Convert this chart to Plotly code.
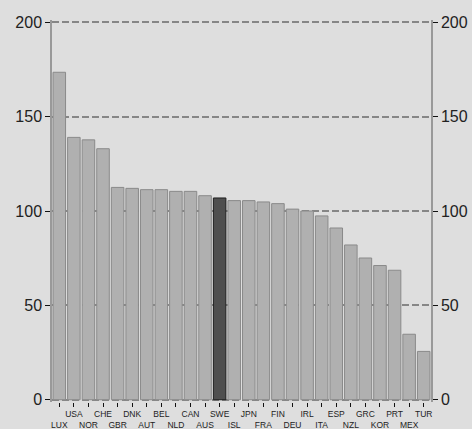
import plotly.graph_objects as go

countries = ["LUX", "USA", "NOR", "CHE", "GBR", "DNK", "AUT", "BEL", "NLD", "CAN",
             "AUS", "SWE", "ISL", "JPN", "FRA", "FIN", "DEU", "IRL", "ITA", "ESP",
             "NZL", "GRC", "KOR", "PRT", "MEX", "TUR"]
values = [173.5, 139, 137.7, 133, 112.5, 112, 111.3, 111.3, 110.4, 110.4,
          108.1, 106.9, 105.5, 105.5, 104.8, 103.9, 101, 100, 97.4, 91,
          82, 75.1, 71.1, 68.6, 34.7, 25.6]
highlight = "SWE"
y_ticks = [0, 50, 100, 150, 200]

BG = "#dedede"
fills = ["#4f4f4f" if c == highlight else "#b0b0b0" for c in countries]
lines = ["#1e1e1e" if c == highlight else "#8a8a8a" for c in countries]
ticktext = [c if i % 2 == 1 else "<br>" + c for i, c in enumerate(countries)]

fig = go.Figure()
fig.add_trace(go.Bar(x=countries, y=values,
                     marker=dict(color=fills, line=dict(color=lines, width=1)),
                     hoverinfo="skip"))
fig.add_trace(go.Scatter(x=[countries[0]], y=[0], yaxis="y2", mode="markers",
                         marker=dict(opacity=0), hoverinfo="skip", showlegend=False))

axis_common = dict(range=[-1.2, 201.2], tickvals=y_ticks, ticks="outside", ticklen=5,
                   tickcolor="#111", tickwidth=1, showline=True, linecolor="#999",
                   linewidth=1.5, zeroline=False, automargin=False,
                   tickfont=dict(family="Liberation Sans, Arial", size=16, color="#222"))

fig.update_layout(
    width=472, height=429,
    margin=dict(l=52, r=41, t=20, b=27),
    paper_bgcolor=BG, plot_bgcolor=BG,
    showlegend=False, bargap=0.14,
    xaxis=dict(type="category", range=[-0.5, 25.5], tickvals=countries, ticktext=ticktext,
               tickangle=0, automargin=False,
               ticks="outside", ticklen=4, tickcolor="#111", showgrid=False,
               showline=False, zeroline=False,
               tickfont=dict(family="Liberation Sans, Arial", size=8.5, color="#222")),
    yaxis=dict(**axis_common, side="left", showgrid=True, gridcolor="#868686",
               gridwidth=1.5, griddash="7px,3px"),
    yaxis2=dict(**axis_common, side="right", overlaying="y", showgrid=False),
)

fig.write_html("out.html", config={"displayModeBar": False},
               post_script="document.body.style.margin='0';document.body.style.padding='0';")
